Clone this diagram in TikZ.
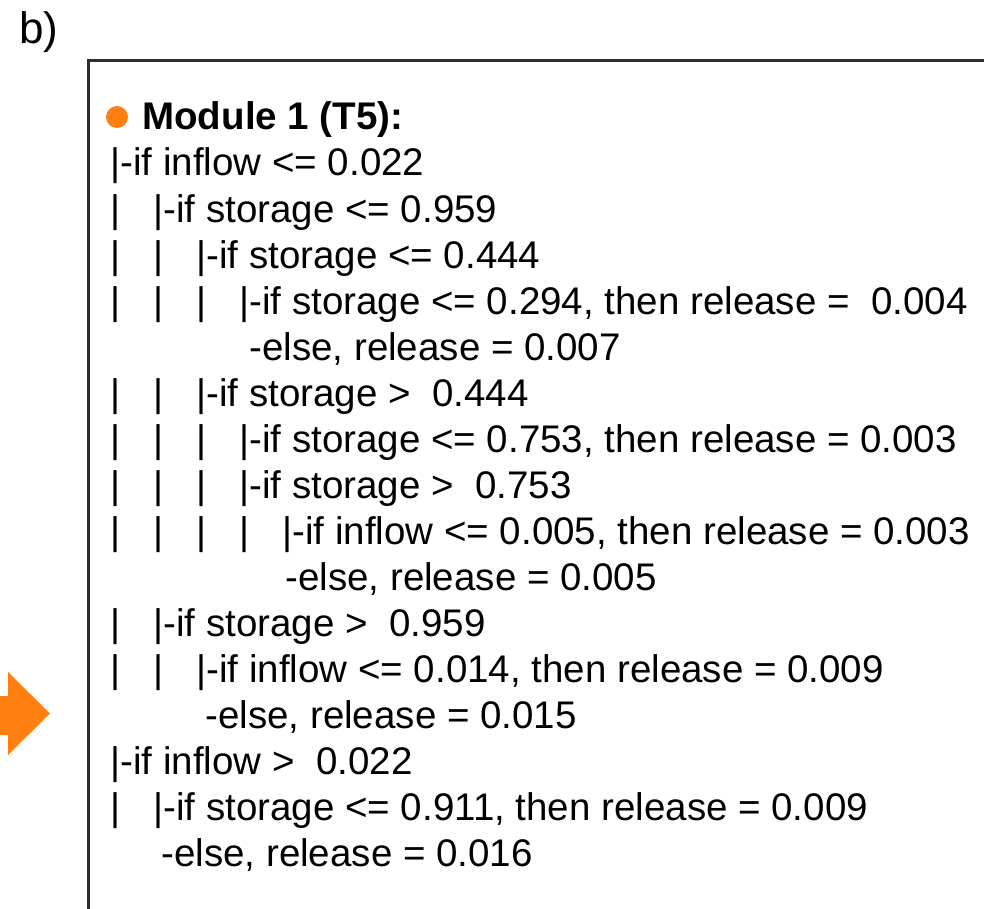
\documentclass[tikz,border=0pt]{standalone}
\usepackage{fontspec}
\setmainfont{Liberation Sans}
\usepackage{xcolor}
\definecolor{modorange}{RGB}{255,128,16}
\definecolor{framegray}{RGB}{45,45,45}
\newcommand{\linefont}{\fontsize{19.25}{23}\selectfont}
\newcommand{\tb}{\makebox[21.5pt][l]{|}}

\begin{document}
\begin{tikzpicture}[x=0.5pt, y=-0.5pt,
  rule/.style={anchor=base west, inner sep=0pt, font=\linefont}]

  \useasboundingbox (0,0) rectangle (984,909);
  \clip (0,0) rectangle (984,909);

  % panel label and frame
  \draw node[anchor=base west, inner sep=0pt, font=\fontsize{22}{26}\selectfont] (lab) at (19,44) {b)};
  \draw[framegray, line width=1.5pt] (88,1000) -- (88,61) -- (1100,61);

  % arrow coming in from the left
  \fill[modorange] (-20,696) -- (8,696) -- (8,672) -- (50,713.5) -- (8,755) -- (8,735) -- (-20,735) -- cycle;

  % header
  \fill[modorange] (117,117) circle (11);
  \draw node[rule, font=\linefont\bfseries] (head) at (142,130) {Module 1 (T5):};

  % tree lines
  \draw node[rule] (l2) at (110,176) {|-if inflow <= 0.022};
  \draw node[rule] (l3) at (110,222) {\tb|-if storage <= 0.959};
  \draw node[rule] (l4) at (110,268) {\tb\tb|-if storage <= 0.444};
  \draw node[rule] (l5) at (110,314) {\tb\tb\tb|-if storage <= 0.294, then release = \ 0.004};
  \draw node[rule] (l6) at (249,360) {-else, release = 0.007};
  \draw node[rule] (l7) at (110,406) {\tb\tb|-if storage > \ 0.444};
  \draw node[rule] (l8) at (110,452) {\tb\tb\tb|-if storage <= 0.753, then release = 0.003};
  \draw node[rule] (l9) at (110,498) {\tb\tb\tb|-if storage > \ 0.753};
  \draw node[rule] (l10) at (110,544) {\tb\tb\tb\tb|-if inflow <= 0.005, then release = 0.003};
  \draw node[rule] (l11) at (285,590) {-else, release = 0.005};
  \draw node[rule] (l12) at (110,636) {\tb|-if storage > \ 0.959};
  \draw node[rule] (l13) at (110,682) {\tb\tb|-if inflow <= 0.014, then release = 0.009};
  \draw node[rule] (l14) at (205,728) {-else, release = 0.015};
  \draw node[rule] (l15) at (110,774) {|-if inflow > \ 0.022};
  \draw node[rule] (l16) at (110,820) {\tb|-if storage <= 0.911, then release = 0.009};
  \draw node[rule] (l17) at (161,866) {-else, release = 0.016};

\end{tikzpicture}
\end{document}
